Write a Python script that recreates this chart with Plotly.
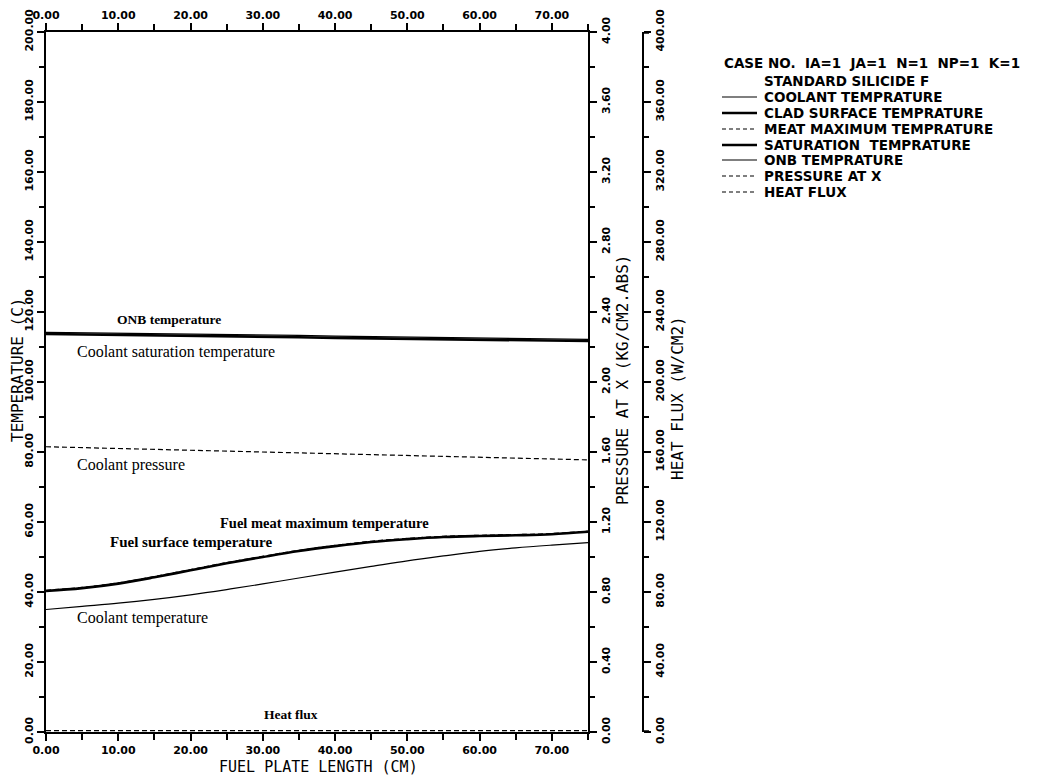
import plotly.graph_objects as go

# ---------------- data ----------------
length_cm = [0, 5, 10, 15, 20, 25, 30, 35, 40, 45, 50, 55, 60, 65, 70, 75]
coolant_temp = [35.0, 35.9, 36.8, 37.9, 39.2, 40.7, 42.3, 44.0, 45.7, 47.3, 48.9, 50.3, 51.6, 52.6, 53.4, 54.1]
clad_surface_temp = [40.3, 41.1, 42.4, 44.2, 46.2, 48.2, 50.0, 51.7, 53.1, 54.3, 55.1, 55.7, 56.0, 56.2, 56.5, 57.2]
meat_max_temp = [40.5, 41.3, 42.6, 44.4, 46.4, 48.4, 50.2, 51.9, 53.3, 54.5, 55.3, 55.9, 56.2, 56.4, 56.7, 57.4]
saturation_temp = [113.7, 113.6, 113.4, 113.3, 113.2, 113.0, 112.9, 112.8, 112.6, 112.5, 112.4, 112.2, 112.1, 112.0, 111.8, 111.7]
onb_temp = [114.2, 114.1, 113.9, 113.8, 113.7, 113.5, 113.4, 113.3, 113.1, 113.0, 112.9, 112.7, 112.6, 112.5, 112.3, 112.2]
pressure = [1.63, 1.625, 1.62, 1.615, 1.61, 1.605, 1.60, 1.595, 1.59, 1.585, 1.58, 1.575, 1.57, 1.565, 1.56, 1.555]
heat_flux = [0.8, 0.8, 0.8, 0.8, 0.8, 0.8, 0.8, 0.8, 0.8, 0.8, 0.8, 0.8, 0.8, 0.8, 0.8, 0.8]

x_ticks = [0, 10, 20, 30, 40, 50, 60, 70]
temp_ticks = [0, 20, 40, 60, 80, 100, 120, 140, 160, 180, 200]
pressure_ticks = [0, 0.4, 0.8, 1.2, 1.6, 2.0, 2.4, 2.8, 3.2, 3.6, 4.0]
flux_ticks = [0, 40, 80, 120, 160, 200, 240, 280, 320, 360, 400]

legend_header = ["CASE NO.  IA=1  JA=1  N=1  NP=1  K=1", "STANDARD SILICIDE F"]
legend_labels = ["COOLANT TEMPRATURE", "CLAD SURFACE TEMPRATURE", "MEAT MAXIMUM TEMPRATURE",
                 "SATURATION  TEMPRATURE", "ONB TEMPRATURE", "PRESSURE AT X", "HEAT FLUX"]

# ---------------- layout geometry (reference pixel coords, page has 8px body margin) ----------------
OFF = 8
W, H = 1038 - OFF, 777 - OFF
PLOT_L, PLOT_R, PLOT_T, PLOT_B = 46, 588, 32, 732
PAPER_RIGHT = 700
ML = PLOT_L - OFF
MT = PLOT_T - OFF
MB = (H + OFF) - PLOT_B
MR = (W + OFF) - PAPER_RIGHT
PW = PAPER_RIGHT - PLOT_L
PH = PLOT_B - PLOT_T
X_DOMAIN_END = (PLOT_R - PLOT_L) / PW


def px(xp):
    return (xp - PLOT_L) / PW


def py(yp):
    return (PLOT_B - yp) / PH


TICKFONT = dict(family="DejaVu Sans", size=11, color="black", weight="bold")
TITLEFONT = dict(family="DejaVu Sans Mono", size=16, color="black")
SERIF = "Liberation Serif"

fig = go.Figure()

thin = 1.2
thick = 2.6
dash = "5px,3px"
legend_dash = "4px,3px"

fig.add_trace(go.Scatter(x=length_cm, y=coolant_temp, mode="lines", line=dict(color="black", width=thin, shape="spline"), name=legend_labels[0]))
fig.add_trace(go.Scatter(x=length_cm, y=meat_max_temp, mode="lines", line=dict(color="black", width=thin, dash=dash, shape="spline"), name=legend_labels[2]))
fig.add_trace(go.Scatter(x=length_cm, y=clad_surface_temp, mode="lines", line=dict(color="black", width=thick, shape="spline"), name=legend_labels[1]))
fig.add_trace(go.Scatter(x=length_cm, y=saturation_temp, mode="lines", line=dict(color="black", width=thick), name=legend_labels[3]))
fig.add_trace(go.Scatter(x=length_cm, y=onb_temp, mode="lines", line=dict(color="black", width=thin), name=legend_labels[4]))
fig.add_trace(go.Scatter(x=length_cm, y=pressure, xaxis="x2", yaxis="y2", mode="lines", line=dict(color="black", width=thin, dash=dash), name=legend_labels[5]))
fig.add_trace(go.Scatter(x=length_cm, y=heat_flux, yaxis="y3", mode="lines", line=dict(color="black", width=thin, dash=dash), name=legend_labels[6]))

common_axis = dict(showline=True, linecolor="black", linewidth=2, ticks="outside", tickcolor="black",
                   tickwidth=1.5, ticklen=7, showgrid=False, zeroline=False, tickfont=TICKFONT,
                   tickformat=".2f", automargin=False)

fig.update_layout(
    width=W, height=H,
    margin=dict(l=ML, r=MR, t=MT, b=MB, pad=0, autoexpand=False),
    paper_bgcolor="white", plot_bgcolor="white",
    showlegend=False,
    xaxis=dict(range=[0, 75], domain=[0, X_DOMAIN_END], tickvals=x_ticks,
               minor=dict(tickvals=[5, 15, 25, 35, 45, 55, 65, 75], ticklen=6, tickcolor="black", ticks="outside"),
               **common_axis),
    xaxis2=dict(range=[0, 75], domain=[0, X_DOMAIN_END], overlaying="x", side="top", anchor="y", tickvals=x_ticks,
                minor=dict(tickvals=[5, 15, 25, 35, 45, 55, 65, 75], ticklen=6, tickcolor="black", ticks="outside"),
                **common_axis),
    yaxis=dict(range=[0, 200], tickvals=temp_ticks, tickangle=-90,
               minor=dict(dtick=10, ticklen=5, tickcolor="black", ticks="outside"), **common_axis),
    yaxis2=dict(range=[0, 4], overlaying="y", side="right", anchor="x", tickvals=pressure_ticks, tickangle=-90,
                minor=dict(dtick=0.2, ticklen=5, tickcolor="black", ticks="outside"), **common_axis),
    yaxis3=dict(range=[0, 400], overlaying="y", side="right", anchor="free", position=px(643),
                tickvals=flux_ticks, tickangle=-90,
                minor=dict(dtick=20, ticklen=5, tickcolor="black", ticks="outside"), **common_axis),
)

annotations = []
# axis titles
annotations.append(dict(text="TEMPERATURE (C)", xref="paper", yref="paper", x=px(17), y=py(370), textangle=-90,
                        showarrow=False, font=TITLEFONT, xanchor="center", yanchor="middle"))
annotations.append(dict(text="FUEL PLATE LENGTH (CM)", xref="paper", yref="paper", x=px(318), y=py(767),
                        showarrow=False, font=dict(family="DejaVu Sans Mono", size=15, color="black"),
                        xanchor="center", yanchor="middle"))
annotations.append(dict(text="PRESSURE AT X (KG/CM2.ABS)", xref="paper", yref="paper", x=px(622), y=py(380),
                        textangle=-90, showarrow=False, font=TITLEFONT, xanchor="center", yanchor="middle"))
annotations.append(dict(text="HEAT FLUX (W/CM2)", xref="paper", yref="paper", x=px(677), y=py(398),
                        textangle=-90, showarrow=False, font=TITLEFONT, xanchor="center", yanchor="middle"))

# curve labels (data coordinates)
curve_labels = [
    ("<b>ONB temperature</b>", 9.6, 118.0, 13.5),
    ("Coolant saturation temperature", 4.0, 108.6, 16),
    ("Coolant pressure", 4.0, 76.3, 16),
    ("<b>Fuel meat maximum temperature</b>", 23.8, 59.7, 14.5),
    ("<b>Fuel surface temperature</b>", 8.6, 54.3, 15),
    ("Coolant temperature", 4.0, 32.6, 16),
    ("<b>Heat flux</b>", 29.9, 4.9, 13.5),
]
for txt, xv, yv, fs in curve_labels:
    annotations.append(dict(text=txt, x=xv, y=yv, xref="x", yref="y", showarrow=False, xanchor="left",
                            yanchor="middle", font=dict(family=SERIF, size=fs, color="black")))

# legend block (manual, at right)
LEGFONT = dict(family="DejaVu Sans", size=13.5, color="black", weight="bold")
annotations.append(dict(text=legend_header[0], xref="paper", yref="paper", x=px(722), y=py(63), showarrow=False,
                        xanchor="left", yanchor="middle", font=LEGFONT))
annotations.append(dict(text=legend_header[1], xref="paper", yref="paper", x=px(762), y=py(81), showarrow=False,
                        xanchor="left", yanchor="middle", font=LEGFONT))
row_y = [97, 113, 129, 145, 160, 176, 192]
row_style = [(thin, "solid"), (thick, "solid"), (thin, legend_dash), (thick, "solid"), (thin, "solid"),
             (thin, legend_dash), (thin, legend_dash)]
shapes = []
for lbl, yy, (wd, ds) in zip(legend_labels, row_y, row_style):
    annotations.append(dict(text=lbl, xref="paper", yref="paper", x=px(762), y=py(yy), showarrow=False,
                            xanchor="left", yanchor="middle", font=LEGFONT))
    shapes.append(dict(type="line", xref="paper", yref="paper", x0=px(722), x1=px(757), y0=py(yy), y1=py(yy),
                       line=dict(color="black", width=wd, dash=ds)))

# small end hooks of the heat-flux axis
for yy in [33, 731]:
    shapes.append(dict(type="line", xref="paper", yref="paper", x0=px(643), x1=px(649), y0=py(yy), y1=py(yy),
                       line=dict(color="black", width=1.5)))

fig.update_layout(annotations=annotations, shapes=shapes)

fig.write_html("out.html")
